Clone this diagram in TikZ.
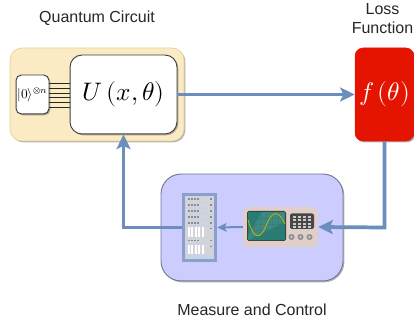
\documentclass[tikz,border=0pt]{standalone}
\usepackage{fontspec}
\setmainfont{Liberation Sans}
\usepackage{unicode-math}
\setmathfont{Latin Modern Math}
\usetikzlibrary{arrows.meta,shadows,calc}
\definecolor{flow}{HTML}{6C8EBF}
\definecolor{yel}{HTML}{FBEBC4}
\definecolor{yelb}{HTML}{E8CF90}
\definecolor{pur}{HTML}{CCCCFF}
\definecolor{purb}{HTML}{6F7A94}
\definecolor{redf}{HTML}{E51400}
\definecolor{rackb}{HTML}{8C9FCB}
\definecolor{rackin}{HTML}{C9D3E8}
\definecolor{slot}{HTML}{D4D4D8}
\definecolor{instb}{HTML}{E0CEC9}
\definecolor{scr}{HTML}{1E8077}
\tikzset{
 x=0.75pt,y=-0.75pt,
 softshadow/.style={drop shadow={shadow xshift=1pt,shadow yshift=-1pt,opacity=.3,fill=black}},
 panel/.style={rounded corners=#1,softshadow},
 conn/.style={draw=flow,line width=2.8pt,-{Stealth[length=11pt,width=10.5pt,inset=2.5pt]}},
 thinconn/.style={draw=flow,line width=1.5pt,-{Stealth[length=7pt,width=6.5pt,inset=1.5pt]}},
 label/.style={font=\fontsize{12pt}{14.25pt}\selectfont,align=center,text=black!85},
}
\begin{document}
\begin{tikzpicture}
\useasboundingbox (0,0) rectangle (414,320);
\node[label] (t1) at (97,18.5) {Quantum Circuit};
\node[label] (t2) at (382.5,18.5) {Loss\\Function};
\node[label] (t3) at (252,309.5) {Measure and Control};

\node[panel=9pt,fill=yel,draw=yelb,line width=.5pt,minimum width=130.5pt,minimum height=69.75pt,inner sep=0pt] (qc) at (97,94.5) {};
\node[panel=9pt,fill=white,draw=black!75,line width=.7pt,minimum width=80.2pt,minimum height=59.2pt,inner sep=0pt] (u) at (123.5,94.5) {\fontsize{19pt}{20pt}\selectfont$U\left(x,\theta\right)$};
\node[panel=4pt,fill=white,draw=black!75,line width=.7pt,minimum width=24.7pt,minimum height=29.2pt,inner sep=0pt] (z) at (32.5,94.5) {\fontsize{10pt}{11pt}\selectfont$|0\rangle^{\otimes n}$};
\foreach \yy in {83,88,93,97.5,102.5,107.5}{
  \coordinate (a) at (z.east |- 0,\yy);
  \coordinate (b) at (u.west |- 0,\yy);
  \draw[black!85,line width=.45pt] (a) -- (b);
}
\node[panel=6pt,fill=redf,draw=redf,line width=.4pt,minimum width=44.2pt,minimum height=69.75pt,inner sep=0pt,text=white] (f) at (384.5,94.5) {\fontsize{19pt}{20pt}\selectfont$f\left(\theta\right)$};
\node[panel=15pt,fill=pur,draw=purb,line width=.7pt,minimum width=136.5pt,minimum height=80.2pt,inner sep=0pt] (mc) at (252,227.5) {};

% rack
\node[fill=rackb,minimum width=26.2pt,minimum height=51.7pt,inner sep=0pt] (rack) at (199.5,227.5) {};
\fill[rackin] (185,196) rectangle (214,259);
\foreach \ya/\yb in {197/202,203/207.5,209/213,215/219,221/225,238.5/243}{
  \fill[slot] (186,\ya) rectangle (213.5,\yb);
  \foreach \xx in {187.5,190.5,193.5,196.5}{\fill[black!45] (\xx,\ya+1.5) rectangle +(2,1.5);}
  \fill[black!45] (209.5,\ya+1.5) rectangle +(2,1.5);
}
\foreach \ya/\yb in {227/237,245/254}{
  \fill[slot] (186,\ya) rectangle (213.5,\yb);
  \foreach \xx in {187.5,191,194.5,198,201.5}{\fill[white] (\xx,\ya) rectangle +(2.3,\yb-\ya);}
  \fill[black!45] (209.5,\ya+1) rectangle +(2,1.5);
}

% instrument
\node[fill=instb,rounded corners=4pt,minimum width=56.2pt,minimum height=30pt,inner sep=0pt] (inst) at (280.5,227) {};
\fill[black!75,rounded corners=1.2pt] (247,211) rectangle (286,241);
\fill[scr] (248,212) rectangle (285,240);
\fill[white,opacity=.1] (262,212) -- (285,212) -- (285,222) -- (248,240) -- (248,236) -- cycle;
\foreach \xx in {254,260,266,272,278}{\draw[black!60,line width=.2pt,opacity=.5] (\xx,212) -- (\xx,240);}
\foreach \yy in {218,224,230,236}{\draw[black!60,line width=.2pt,opacity=.5] (248,\yy) -- (285,\yy);}
\draw[olive!55!yellow,line width=.6pt] (248,220) .. controls (254,240) and (260,240) .. (266,226) .. controls (271,212) and (278,208) .. (285,224);
\fill[black!72,rounded corners=1.5pt] (290,213.5) rectangle (314,229);
\foreach \xx in {293,298,303,308}{\foreach \yy in {216,219.5,223,226}{\fill[white!80!black] (\xx,\yy) rectangle +(2.5,1.6);}}
\foreach \xx in {291.5,300.5,309.5}{\fill[black!45] (\xx,237) circle (3);\fill[white!80!black] (\xx,237) circle (1.3);}

% connectors
\draw[conn] (u.east) -- (f.west);
\coordinate (low) at (f.south |- mc.center);
\draw[conn] (f.south) -- (low) -- (inst.east);
\draw[thinconn] (inst.west) -- (rack.east);
\coordinate (up) at (u.south |- rack.west);
\draw[conn] (rack.west) -- (up) -- (u.south);
\end{tikzpicture}
\end{document}
